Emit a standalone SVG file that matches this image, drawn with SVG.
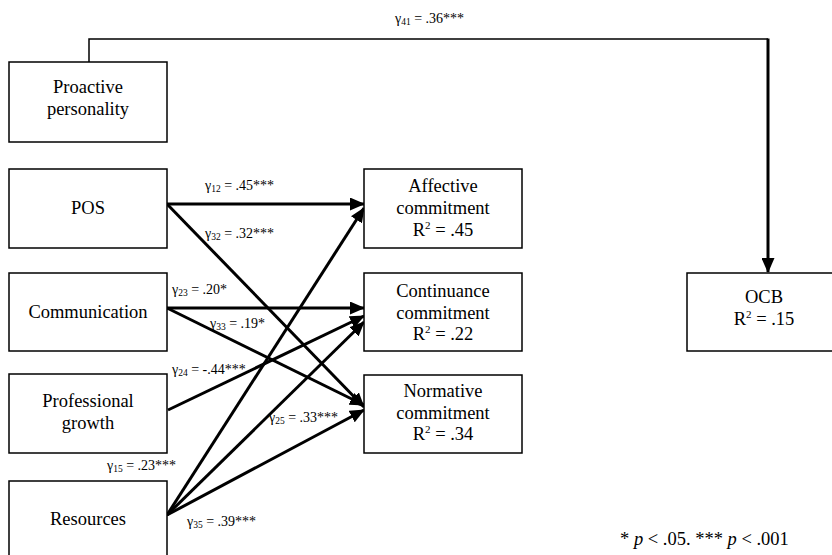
<svg xmlns="http://www.w3.org/2000/svg" width="832" height="555" viewBox="0 0 832 555">
<defs>
<marker id="ah" markerUnits="userSpaceOnUse" markerWidth="15" markerHeight="13" refX="14" refY="6.5" orient="auto">
<path d="M0,0 L15,6.5 L0,13 z" fill="#000"/>
</marker>
<style>
.box{fill:#fff;stroke:#000;stroke-width:1.5}
.nt{font-family:"Liberation Serif","Times New Roman",serif;font-size:18.5px;fill:#000;text-anchor:middle}
.lb{font-family:"Liberation Serif","Times New Roman",serif;font-size:14px;fill:#000}
.sub{font-size:9.5px}
.ar{stroke:#000;stroke-width:3;fill:none;marker-end:url(#ah)}
</style>
</defs>
<rect width="832" height="555" fill="#fff"/>
<g id="connectors">
<polyline points="89,62 89,39 768,39" fill="none" stroke="#000" stroke-width="1.5"/>
<line class="ar" x1="768" y1="38.5" x2="768" y2="272"/>
<line class="ar" x1="167" y1="204" x2="364" y2="204"/>
<line class="ar" x1="167" y1="204" x2="364" y2="407"/>
<line class="ar" x1="167" y1="308" x2="364" y2="308"/>
<line class="ar" x1="167" y1="308" x2="364" y2="405"/>
<line class="ar" x1="168" y1="410" x2="364" y2="316"/>
<line class="ar" x1="167" y1="515" x2="364" y2="208"/>
<line class="ar" x1="167" y1="515" x2="364" y2="322"/>
<line class="ar" x1="167" y1="515" x2="364" y2="410"/>
</g>
<g id="labels">
<text class="lb" x="395" y="23">γ<tspan class="sub" dy="2">41</tspan><tspan dy="-2"> = .36***</tspan></text>
<text class="lb" x="205" y="190">γ<tspan class="sub" dy="2">12</tspan><tspan dy="-2"> = .45***</tspan></text>
<text class="lb" x="205" y="238">γ<tspan class="sub" dy="2">32</tspan><tspan dy="-2"> = .32***</tspan></text>
<text class="lb" x="172" y="294">γ<tspan class="sub" dy="2">23</tspan><tspan dy="-2"> = .20*</tspan></text>
<text class="lb" x="210" y="328">γ<tspan class="sub" dy="2">33</tspan><tspan dy="-2"> = .19*</tspan></text>
<text class="lb" x="172" y="374">γ<tspan class="sub" dy="2">24</tspan><tspan dy="-2"> = -.44***</tspan></text>
<text class="lb" x="269" y="422">γ<tspan class="sub" dy="2">25</tspan><tspan dy="-2"> = .33***</tspan></text>
<text class="lb" x="107" y="470">γ<tspan class="sub" dy="2">15</tspan><tspan dy="-2"> = .23***</tspan></text>
<text class="lb" x="187" y="526">γ<tspan class="sub" dy="2">35</tspan><tspan dy="-2"> = .39***</tspan></text>
</g>
<g id="proactive">
<rect class="box" x="9" y="62" width="158" height="80"/>
<text class="nt" x="88" y="93">Proactive</text>
<text class="nt" x="88" y="115">personality</text>
</g>
<g id="pos">
<rect class="box" x="9" y="169" width="158" height="79"/>
<text class="nt" x="88" y="214">POS</text>
</g>
<g id="communication">
<rect class="box" x="9" y="273" width="158" height="78"/>
<text class="nt" x="88" y="318">Communication</text>
</g>
<g id="professional">
<rect class="box" x="9" y="374" width="158" height="79"/>
<text class="nt" x="88" y="407">Professional</text>
<text class="nt" x="88" y="429">growth</text>
</g>
<g id="resources">
<rect class="box" x="9" y="481" width="158" height="80"/>
<text class="nt" x="88" y="525">Resources</text>
</g>
<g id="affective">
<rect class="box" x="364" y="169" width="158" height="79"/>
<text class="nt" x="443" y="192">Affective</text>
<text class="nt" x="443" y="214">commitment</text>
<text class="nt" x="443" y="236">R<tspan style="font-size:11px" dy="-7">2</tspan><tspan dy="7"> = .45</tspan></text>
</g>
<g id="continuance">
<rect class="box" x="364" y="273" width="158" height="78"/>
<text class="nt" x="443" y="297">Continuance</text>
<text class="nt" x="443" y="319">commitment</text>
<text class="nt" x="443" y="340">R<tspan style="font-size:11px" dy="-7">2</tspan><tspan dy="7"> = .22</tspan></text>
</g>
<g id="normative">
<rect class="box" x="364" y="375" width="158" height="78"/>
<text class="nt" x="443" y="397">Normative</text>
<text class="nt" x="443" y="419">commitment</text>
<text class="nt" x="443" y="440">R<tspan style="font-size:11px" dy="-7">2</tspan><tspan dy="7"> = .34</tspan></text>
</g>
<g id="ocb">
<rect class="box" x="687" y="273" width="160" height="78"/>
<text class="nt" x="764" y="303">OCB</text>
<text class="nt" x="764" y="325">R<tspan style="font-size:11px" dy="-7">2</tspan><tspan dy="7"> = .15</tspan></text>
</g>
<text x="620" y="545" style="font-family:'Liberation Serif','Times New Roman',serif;font-size:18.5px">* <tspan font-style="italic">p</tspan> &lt; .05. *** <tspan font-style="italic">p</tspan> &lt; .001</text>
</svg>
